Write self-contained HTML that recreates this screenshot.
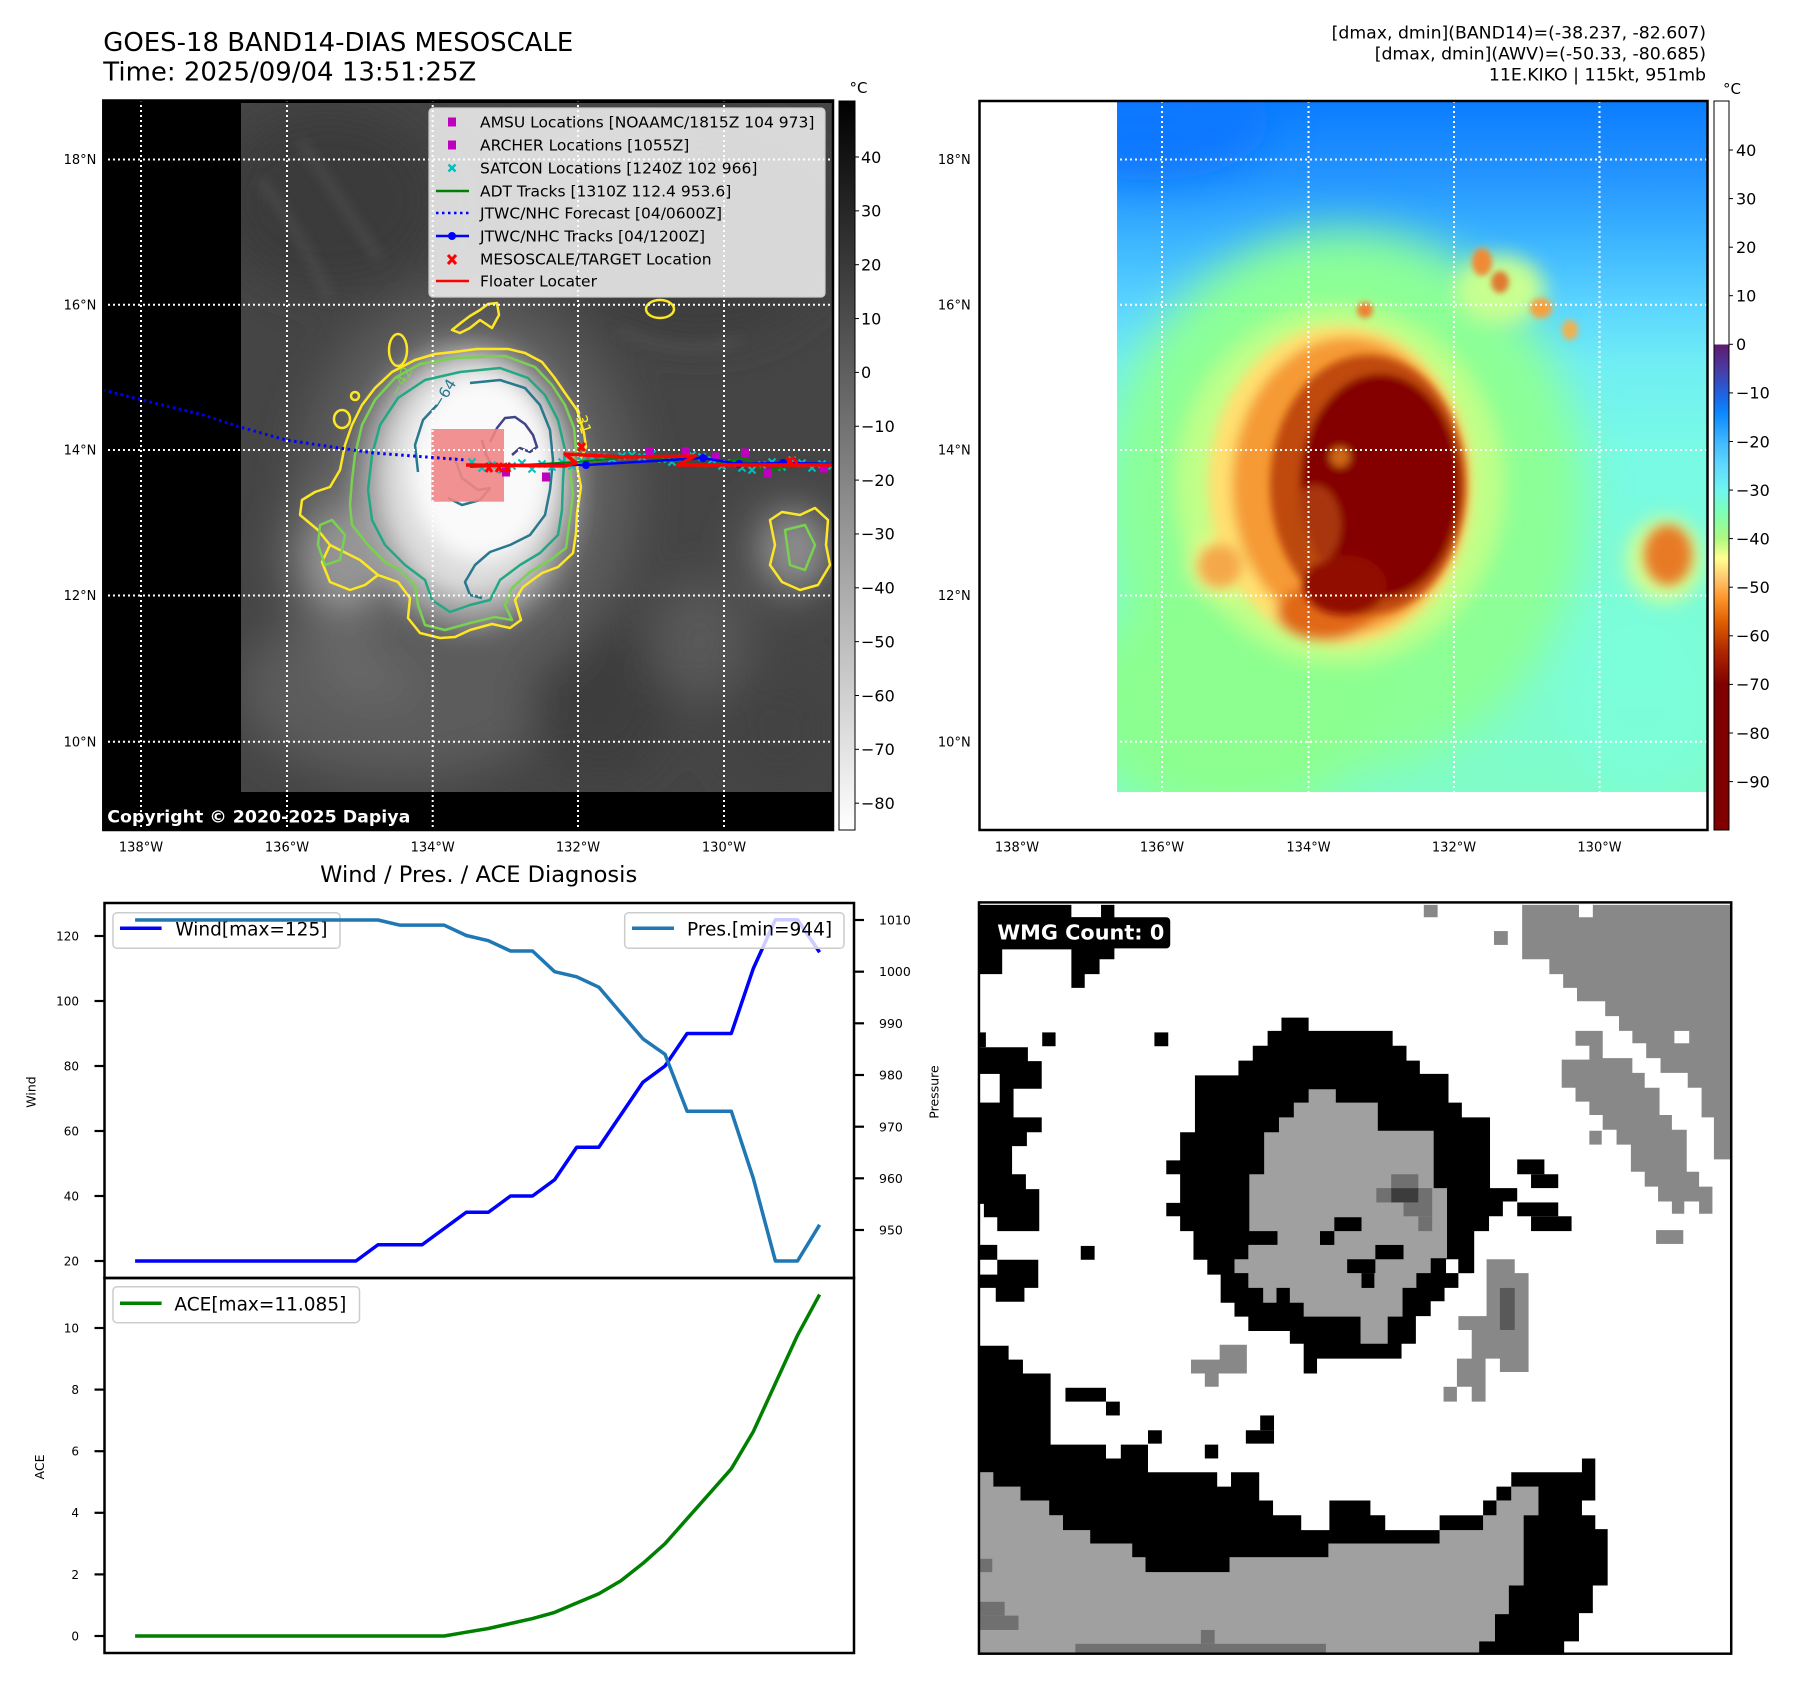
<!DOCTYPE html>
<html><head><meta charset="utf-8"><style>
html,body{margin:0;padding:0;background:#fff}
svg{display:block}
text{font-family:"DejaVu Sans","Liberation Sans",sans-serif}
</style></head><body>
<svg width="1797" height="1690" viewBox="0 0 1797 1690" xmlns="http://www.w3.org/2000/svg">
<defs>
<filter id="b2" x="-50%" y="-50%" width="200%" height="200%"><feGaussianBlur stdDeviation="2"/></filter>
<filter id="b3" x="-50%" y="-50%" width="200%" height="200%"><feGaussianBlur stdDeviation="3"/></filter>
<filter id="b4" x="-50%" y="-50%" width="200%" height="200%"><feGaussianBlur stdDeviation="4"/></filter>
<filter id="b6" x="-50%" y="-50%" width="200%" height="200%"><feGaussianBlur stdDeviation="6"/></filter>
<filter id="b10" x="-50%" y="-50%" width="200%" height="200%"><feGaussianBlur stdDeviation="10"/></filter>
<filter id="b14" x="-50%" y="-50%" width="200%" height="200%"><feGaussianBlur stdDeviation="14"/></filter>
<filter id="b22" x="-50%" y="-50%" width="200%" height="200%"><feGaussianBlur stdDeviation="22"/></filter>
<clipPath id="axL"><rect x="103.3" y="100.5" width="729.7" height="729.5"/></clipPath>
<clipPath id="imgL"><rect x="241" y="103" width="592" height="689"/></clipPath>
<clipPath id="axR"><rect x="979.5" y="101" width="728" height="729"/></clipPath>
<clipPath id="imgR"><rect x="1117" y="101" width="590.5" height="691"/></clipPath>
<linearGradient id="cbL" x1="0" y1="0" x2="0" y2="1"><stop offset="0" stop-color="#000"/><stop offset="1" stop-color="#fff"/></linearGradient>
<linearGradient id="cbR" x1="0" y1="0" x2="0" y2="1">
<stop offset="0" stop-color="#fff"/><stop offset="0.3337" stop-color="#fff"/>
<stop offset="0.3337" stop-color="#5e1a6e"/><stop offset="0.367" stop-color="#4a3aa0"/>
<stop offset="0.402" stop-color="#2062e0"/><stop offset="0.428" stop-color="#0a88ff"/>
<stop offset="0.467" stop-color="#40b8ff"/><stop offset="0.500" stop-color="#60d8ff"/>
<stop offset="0.534" stop-color="#70f5f0"/><stop offset="0.567" stop-color="#80ffb0"/>
<stop offset="0.600" stop-color="#b0f880"/><stop offset="0.627" stop-color="#ffff90"/>
<stop offset="0.654" stop-color="#ffc870"/><stop offset="0.680" stop-color="#ff9830"/>
<stop offset="0.714" stop-color="#e06000"/><stop offset="0.754" stop-color="#b02800"/>
<stop offset="0.800" stop-color="#800000"/><stop offset="1" stop-color="#800000"/>
</linearGradient>
<linearGradient id="gR" gradientUnits="userSpaceOnUse" x1="0" y1="101" x2="0" y2="792">
<stop offset="0" stop-color="#0a7dff"/><stop offset="0.1" stop-color="#2292ff"/>
<stop offset="0.2" stop-color="#3cb4ff"/><stop offset="0.3" stop-color="#5cd6ff"/>
<stop offset="0.38" stop-color="#70eef4"/><stop offset="0.5" stop-color="#78fae6"/>
<stop offset="0.75" stop-color="#7cfcd6"/><stop offset="1" stop-color="#80fcc8"/>
</linearGradient>
</defs>
<rect width="1797" height="1690" fill="#fff"/>

<!-- Titles -->
<text x="103.3" y="51.2" font-size="25.5" textLength="470" lengthAdjust="spacingAndGlyphs">GOES-18 BAND14-DIAS MESOSCALE</text>
<text x="103.3" y="80.5" font-size="25.5" textLength="373" lengthAdjust="spacingAndGlyphs">Time: 2025/09/04 13:51:25Z</text>
<text x="1706" y="38.5" font-size="17.3" text-anchor="end">[dmax, dmin](BAND14)=(-38.237, -82.607)</text>
<text x="1706" y="59.5" font-size="17.3" text-anchor="end">[dmax, dmin](AWV)=(-50.33, -80.685)</text>
<text x="1706" y="80.5" font-size="17.3" text-anchor="end">11E.KIKO | 115kt, 951mb</text>

<!-- ================= LEFT MAP ================= -->
<g clip-path="url(#axL)">
<rect x="103.3" y="100.5" width="729.7" height="729.5" fill="#000"/>
<g clip-path="url(#imgL)">
<rect x="241" y="103" width="592" height="689" fill="#454545"/>
<g filter="url(#b22)">
<ellipse cx="330" cy="200" rx="110" ry="90" fill="#3a3a3a"/>
<ellipse cx="700" cy="230" rx="140" ry="110" fill="#3d3d3d"/>
<ellipse cx="600" cy="170" rx="80" ry="50" fill="#4e4e4e"/>
<ellipse cx="400" cy="690" rx="160" ry="90" fill="#5c5c5c"/>
<ellipse cx="380" cy="660" rx="60" ry="40" fill="#6a6a6a"/>
<ellipse cx="600" cy="700" rx="70" ry="80" fill="#3c3c3c"/>
<ellipse cx="700" cy="640" rx="50" ry="60" fill="#585858"/>
<ellipse cx="780" cy="730" rx="60" ry="60" fill="#424242"/>
<ellipse cx="468" cy="490" rx="170" ry="200" fill="#5c5c5c"/>
<ellipse cx="790" cy="550" rx="45" ry="50" fill="#686868"/>
<ellipse cx="340" cy="555" rx="55" ry="70" fill="#747474"/>
</g>
<g filter="url(#b6)" stroke="#5a5a5a" stroke-width="6" fill="none" opacity="0.7">
<path d="M260,180 Q300,230 330,300"/>
<path d="M300,140 Q340,200 380,260"/>
<path d="M620,330 Q680,360 740,340"/>
</g>
<g filter="url(#b14)">
<ellipse cx="468" cy="485" rx="112" ry="142" fill="#a8a8a8"/>
<ellipse cx="795" cy="550" rx="30" ry="35" fill="#8a8a8a"/>
<ellipse cx="345" cy="560" rx="35" ry="45" fill="#949494"/>
</g>
<g filter="url(#b10)">
<ellipse cx="472" cy="478" rx="90" ry="118" fill="#dcdcdc"/>
<ellipse cx="480" cy="468" rx="70" ry="92" fill="#fafafa"/>
</g>
<circle cx="473" cy="460" r="5" fill="#cfcfcf" filter="url(#b2)"/>
</g>

<!-- contours -->
<g fill="none" stroke-width="2.5" stroke-linejoin="round">
<path stroke="#fde725" d="M454,352 L477,349 L508,349 L525,353 L542,362 L554,377 L565,393 L577,410 L584,433 L586,447 L577,467 L581,487 L577,513 L576,533 L573,553 L558,567 L542,573 L523,587 L515,600 L521,620 L510,628 L492,624 L470,630 L455,637 L440,638 L420,633 L408,618 L410,598 L398,582 L378,575 L365,585 L350,590 L330,582 L322,562 L330,545 L318,530 L300,515 L302,500 L315,492 L330,487 L340,470 L345,445 L352,425 L362,405 L375,388 L392,372 L415,360 L435,354 Z"/>
<path stroke="#fde725" d="M452,330 L462,322 L470,316 L480,310 L488,304 L497,303 L499,315 L492,328 L480,320 L470,328 L460,333 Z"/>
<ellipse stroke="#fde725" cx="398" cy="350" rx="9" ry="16"/>
<ellipse stroke="#fde725" cx="660" cy="309" rx="14" ry="9"/>
<ellipse stroke="#fde725" cx="342" cy="419" rx="8" ry="9"/>
<ellipse stroke="#fde725" cx="355" cy="396" rx="4" ry="4"/>
<path stroke="#fde725" d="M770,520 L782,512 L800,515 L815,508 L828,520 L826,545 L830,565 L818,585 L800,590 L782,582 L770,565 L775,545 Z"/>
<path stroke="#fde725" d="M330,545 L340,550 L360,560 L378,575"/>
<path stroke="#7ad151" d="M456,358 L505,356 L535,367 L552,385 L565,405 L574,428 L576,450 L570,470 L573,495 L569,525 L566,548 L550,560 L530,572 L512,588 L505,605 L512,620 L495,617 L470,623 L445,630 L425,625 L418,605 L415,585 L400,570 L385,562 L368,545 L352,525 L350,505 L352,480 L355,455 L362,425 L375,400 L395,378 L420,364 Z"/>
<path stroke="#7ad151" d="M320,525 L332,520 L345,535 L340,560 L325,565 L318,545 Z"/>
<path stroke="#7ad151" d="M785,530 L805,525 L815,545 L805,570 L790,565 Z"/>
<path stroke="#22a884" d="M460,372 L500,368 L528,378 L545,395 L558,420 L565,450 L563,480 L562,510 L558,535 L540,553 L520,565 L500,580 L490,600 L470,605 L450,612 L432,600 L425,580 L405,565 L385,545 L372,520 L368,490 L372,455 L380,425 L398,398 L425,380 Z"/>
<path stroke="#2a788e" d="M470,383 L500,380 L525,388 L540,405 L550,430 L553,460 L550,490 L545,515 L530,535 L510,545 L490,552 L475,565 L465,582 L470,595 L482,598"/>
<path stroke="#2a788e" d="M418,472 L415,445 L423,420 L437,405"/>
<path stroke="#2a788e" d="M454,457 L462,478 L478,490 L490,488 L480,500 L462,505 L448,498"/>
<path stroke="#414487" d="M490,442 L497,428 L505,418 L515,417 L525,424 L533,435 L537,447 L530,452 L520,448 L512,455"/>
<path stroke="#414487" d="M482,440 L486,455 L494,468"/>
</g>
<text x="0" y="0" font-size="15" fill="#2a788e" transform="translate(440,410) rotate(-58)">−64</text>
<text x="0" y="0" font-size="15" fill="#7ad151" transform="translate(398,398) rotate(-62)">−42</text>
<text x="0" y="0" font-size="15" fill="#fde725" transform="translate(572,405) rotate(72)">−31</text>

<!-- floater box -->
<rect x="431.4" y="429" width="72.6" height="72.7" fill="#f08585" opacity="0.9"/>

<!-- gridlines -->
<g stroke="#fff" stroke-width="2" stroke-dasharray="2 3">
<line x1="141" y1="100" x2="141" y2="830"/><line x1="287" y1="100" x2="287" y2="830"/>
<line x1="432.7" y1="100" x2="432.7" y2="830"/><line x1="578" y1="100" x2="578" y2="830"/>
<line x1="724" y1="100" x2="724" y2="830"/>
<line x1="108" y1="159.5" x2="833" y2="159.5"/><line x1="108" y1="304.7" x2="833" y2="304.7"/>
<line x1="108" y1="450" x2="833" y2="450"/><line x1="108" y1="595.5" x2="833" y2="595.5"/>
<line x1="108" y1="741.7" x2="833" y2="741.7"/>
</g>

<!-- forecast -->
<polyline points="103,390 150,402 200,414 240,427 286,440 332,447 374,453 466,460" fill="none" stroke="#0000ff" stroke-width="3" stroke-dasharray="2.5 3.5"/>
<!-- SATCON -->
<path stroke="#00bfbf" stroke-width="2" fill="none" d="M468.5,458.5l7,7m0,-7l-7,7 M478.5,464.5l7,7m0,-7l-7,7 M488.5,461.5l7,7m0,-7l-7,7 M498.5,466.5l7,7m0,-7l-7,7 M508.5,462.5l7,7m0,-7l-7,7 M518.5,459.5l7,7m0,-7l-7,7 M528.5,465.5l7,7m0,-7l-7,7 M538.5,460.5l7,7m0,-7l-7,7 M548.5,463.5l7,7m0,-7l-7,7 M558.5,458.5l7,7m0,-7l-7,7 M568.5,462.5l7,7m0,-7l-7,7 M578.5,457.5l7,7m0,-7l-7,7 M588.5,454.5l7,7m0,-7l-7,7 M598.5,453.5l7,7m0,-7l-7,7 M608.5,455.5l7,7m0,-7l-7,7 M618.5,452.5l7,7m0,-7l-7,7 M628.5,451.5l7,7m0,-7l-7,7 M638.5,453.5l7,7m0,-7l-7,7 M648.5,450.5l7,7m0,-7l-7,7 M658.5,455.5l7,7m0,-7l-7,7 M668.5,458.5l7,7m0,-7l-7,7 M678.5,454.5l7,7m0,-7l-7,7 M688.5,451.5l7,7m0,-7l-7,7 M698.5,453.5l7,7m0,-7l-7,7 M708.5,456.5l7,7m0,-7l-7,7 M718.5,462.5l7,7m0,-7l-7,7 M728.5,459.5l7,7m0,-7l-7,7 M738.5,464.5l7,7m0,-7l-7,7 M748.5,466.5l7,7m0,-7l-7,7 M758.5,461.5l7,7m0,-7l-7,7 M768.5,458.5l7,7m0,-7l-7,7 M778.5,463.5l7,7m0,-7l-7,7 M788.5,456.5l7,7m0,-7l-7,7 M798.5,459.5l7,7m0,-7l-7,7 M808.5,464.5l7,7m0,-7l-7,7 M818.5,460.5l7,7m0,-7l-7,7 M828.5,462.5l7,7m0,-7l-7,7"/>
<!-- ADT -->
<polyline points="470,467 500,466 540,464 575,462 610,459 640,456 680,462 705,467 720,463 745,458 765,472 790,466 810,463 840,464" fill="none" stroke="#008000" stroke-width="2"/>
<!-- magenta squares -->
<g fill="#bf00bf">
<rect x="502" y="467.5" width="8" height="9"/><rect x="542" y="472.5" width="8" height="9"/>
<rect x="646" y="447.5" width="8" height="9"/><rect x="682" y="447.5" width="8" height="9"/>
<rect x="712" y="452.5" width="8" height="9"/><rect x="741" y="448.5" width="8" height="9"/>
<rect x="764" y="468.5" width="8" height="9"/><rect x="820" y="463.5" width="8" height="9"/>
</g>
<!-- JTWC tracks -->
<polyline points="470,465 586,465 703,458 739,464 783,463 840,464" fill="none" stroke="#0000ff" stroke-width="2.5"/>
<g fill="#0000ff"><circle cx="586" cy="465" r="4"/><circle cx="703" cy="458" r="4"/><circle cx="739" cy="464" r="4"/><circle cx="783" cy="463" r="4"/></g>
<!-- floater locater -->
<polyline points="466,465 565,466 576,463 565,454 623,457 695,456 678,465 840,465" fill="none" stroke="#ff0000" stroke-width="3.5" stroke-linejoin="round"/>
<path stroke="#ff0000" stroke-width="3" fill="none" d="M486,463l6,9m0,-9l-6,9 M496,463l6,9m0,-9l-6,9 M505,463l5,9m0,-9l-5,9 M578,443l7,8m0,-8l-7,8 M787,457l6,8m0,-8l-6,8 M793,457l5,8"/>

<!-- legend -->
<rect x="429" y="108" width="396" height="189" rx="4" fill="#fff" fill-opacity="0.8" stroke="#cccccc" stroke-width="1.2"/>
<g fill="#bf00bf"><rect x="448" y="117.5" width="8" height="9"/><rect x="448" y="140.5" width="8" height="9"/></g>
<path d="M448.5,164.5l7,7m0,-7l-7,7" stroke="#00bfbf" stroke-width="2.5"/>
<line x1="436" y1="191" x2="469" y2="191" stroke="#008000" stroke-width="2.5"/>
<line x1="436" y1="213" x2="469" y2="213" stroke="#0000ff" stroke-width="2.5" stroke-dasharray="2.5 3.5"/>
<line x1="436" y1="236" x2="469" y2="236" stroke="#0000ff" stroke-width="2.5"/><circle cx="452" cy="236" r="4" fill="#0000ff"/>
<path d="M448,255l8,9m0,-9l-8,9" stroke="#ff0000" stroke-width="3"/>
<line x1="436" y1="281" x2="469" y2="281" stroke="#ff0000" stroke-width="2.5"/>
<g font-size="15.5" fill="#000">
<text x="480" y="127.7">AMSU Locations [NOAAMC/1815Z 104 973]</text>
<text x="480" y="150.7">ARCHER Locations [1055Z]</text>
<text x="480" y="173.7">SATCON Locations [1240Z 102 966]</text>
<text x="480" y="196.7">ADT Tracks [1310Z 112.4 953.6]</text>
<text x="480" y="218.7">JTWC/NHC Forecast [04/0600Z]</text>
<text x="480" y="241.7">JTWC/NHC Tracks [04/1200Z]</text>
<text x="480" y="264.7">MESOSCALE/TARGET Location</text>
<text x="480" y="286.7">Floater Locater</text>
</g>
<text x="107.3" y="822.3" font-size="17" font-weight="bold" fill="#fff" textLength="303" lengthAdjust="spacingAndGlyphs">Copyright © 2020-2025 Dapiya</text>
</g>
<rect x="103.3" y="100.5" width="729.7" height="729.5" fill="none" stroke="#000" stroke-width="2.5"/>

<!-- left map tick labels -->
<g font-size="13" text-anchor="end">
<text x="96.4" y="164.2">18°N</text><text x="96.4" y="309.4">16°N</text>
<text x="96.4" y="454.7">14°N</text><text x="96.4" y="600.2">12°N</text>
<text x="96.4" y="746.4">10°N</text>
</g>
<g font-size="13" text-anchor="middle">
<text x="141" y="851.4">138°W</text><text x="287" y="851.4">136°W</text>
<text x="432.7" y="851.4">134°W</text><text x="578" y="851.4">132°W</text>
<text x="724" y="851.4">130°W</text>
</g>

<!-- left colorbar -->
<rect x="839" y="101" width="16" height="729" fill="url(#cbL)" stroke="#000" stroke-width="1"/>
<text x="849.5" y="93" font-size="15">°C</text>
<g stroke="#000" stroke-width="1">
<line x1="855" y1="157" x2="859" y2="157"/><line x1="855" y1="210.85" x2="859" y2="210.85"/>
<line x1="855" y1="264.7" x2="859" y2="264.7"/><line x1="855" y1="318.55" x2="859" y2="318.55"/>
<line x1="855" y1="372.4" x2="859" y2="372.4"/><line x1="855" y1="426.25" x2="859" y2="426.25"/>
<line x1="855" y1="480.1" x2="859" y2="480.1"/><line x1="855" y1="533.95" x2="859" y2="533.95"/>
<line x1="855" y1="587.8" x2="859" y2="587.8"/><line x1="855" y1="641.65" x2="859" y2="641.65"/>
<line x1="855" y1="695.5" x2="859" y2="695.5"/><line x1="855" y1="749.35" x2="859" y2="749.35"/>
<line x1="855" y1="803.2" x2="859" y2="803.2"/>
</g>
<g font-size="16">
<text x="861" y="162.8">40</text><text x="861" y="216.6">30</text><text x="861" y="270.5">20</text>
<text x="861" y="324.3">10</text><text x="861" y="378.2">0</text><text x="861" y="432">−10</text>
<text x="861" y="485.9">−20</text><text x="861" y="539.7">−30</text><text x="861" y="593.6">−40</text>
<text x="861" y="647.4">−50</text><text x="861" y="701.3">−60</text><text x="861" y="755.1">−70</text>
<text x="861" y="809">−80</text>
</g>

<!-- ================= RIGHT MAP ================= -->
<g clip-path="url(#axR)">
<rect x="979.5" y="101" width="728" height="729" fill="#fff"/>
<g clip-path="url(#imgR)">
<rect x="1117" y="101" width="590.5" height="691" fill="url(#gR)"/>
<g filter="url(#b22)">
<ellipse cx="1150" cy="120" rx="120" ry="60" fill="#0a78ff"/>
<ellipse cx="1345" cy="500" rx="240" ry="270" fill="#8cff96"/>
<ellipse cx="1230" cy="700" rx="150" ry="120" fill="#8cff90"/>
<ellipse cx="1640" cy="700" rx="80" ry="100" fill="#7cffe0" opacity="0.6"/>
</g>
<g filter="url(#b10)">
<ellipse cx="1340" cy="485" rx="165" ry="180" fill="#c0ff88"/>
<ellipse cx="1500" cy="290" rx="45" ry="35" fill="#c8ff90"/>
<ellipse cx="1665" cy="560" rx="38" ry="42" fill="#d8ff90"/>
<ellipse cx="1220" cy="565" rx="32" ry="32" fill="#e8f888"/>
</g>
<g filter="url(#b6)">
<ellipse cx="1340" cy="485" rx="132" ry="160" fill="#ffe070"/>
<ellipse cx="1348" cy="485" rx="116" ry="148" fill="#f59a35"/>
<ellipse cx="1325" cy="612" rx="48" ry="28" fill="#e06818"/>
<ellipse cx="1220" cy="566" rx="22" ry="22" fill="#f5a848"/>
<ellipse cx="1668" cy="555" rx="24" ry="30" fill="#e87a25"/>
</g>
<g filter="url(#b3)">
<ellipse cx="1482" cy="262" rx="10" ry="14" fill="#f08a35"/>
<ellipse cx="1500" cy="282" rx="9" ry="11" fill="#e07a30"/>
<ellipse cx="1541" cy="308" rx="11" ry="10" fill="#f5a040"/>
<ellipse cx="1365" cy="310" rx="8" ry="8" fill="#f08030"/>
<ellipse cx="1570" cy="330" rx="8" ry="10" fill="#f0b050"/>
</g>
<g filter="url(#b4)">
<ellipse cx="1368" cy="485" rx="98" ry="130" fill="#c04a08"/>
<ellipse cx="1380" cy="486" rx="80" ry="112" fill="#840000"/>
<ellipse cx="1345" cy="585" rx="42" ry="30" fill="#900800"/>
<ellipse cx="1315" cy="525" rx="26" ry="40" fill="#b84a10" opacity="0.7"/>
<circle cx="1340" cy="457" r="10" fill="#d06818"/>
</g>
</g>
<g stroke="#fff" stroke-width="2" stroke-dasharray="2 3">
<line x1="1017" y1="101" x2="1017" y2="830"/><line x1="1162" y1="101" x2="1162" y2="830"/>
<line x1="1308.5" y1="101" x2="1308.5" y2="830"/><line x1="1454" y1="101" x2="1454" y2="830"/>
<line x1="1599.5" y1="101" x2="1599.5" y2="830"/>
<line x1="980" y1="159.5" x2="1707" y2="159.5"/><line x1="980" y1="304.7" x2="1707" y2="304.7"/>
<line x1="980" y1="450" x2="1707" y2="450"/><line x1="980" y1="595.5" x2="1707" y2="595.5"/>
<line x1="980" y1="741.7" x2="1707" y2="741.7"/>
</g>
</g>
<rect x="979.5" y="101" width="728" height="729" fill="none" stroke="#000" stroke-width="2.5"/>
<g font-size="13" text-anchor="end">
<text x="970.7" y="164.2">18°N</text><text x="970.7" y="309.4">16°N</text>
<text x="970.7" y="454.7">14°N</text><text x="970.7" y="600.2">12°N</text>
<text x="970.7" y="746.4">10°N</text>
</g>
<g font-size="13" text-anchor="middle">
<text x="1017" y="851.4">138°W</text><text x="1162" y="851.4">136°W</text>
<text x="1308.5" y="851.4">134°W</text><text x="1454" y="851.4">132°W</text>
<text x="1599.5" y="851.4">130°W</text>
</g>
<!-- right colorbar -->
<rect x="1714" y="101" width="15" height="729" fill="url(#cbR)" stroke="#000" stroke-width="1"/>
<text x="1723" y="94" font-size="15">°C</text>
<g stroke="#000" stroke-width="1">
<line x1="1729" y1="150" x2="1733" y2="150"/><line x1="1729" y1="198.6" x2="1733" y2="198.6"/>
<line x1="1729" y1="247.2" x2="1733" y2="247.2"/><line x1="1729" y1="295.7" x2="1733" y2="295.7"/>
<line x1="1729" y1="344.3" x2="1733" y2="344.3"/><line x1="1729" y1="392.9" x2="1733" y2="392.9"/>
<line x1="1729" y1="441.5" x2="1733" y2="441.5"/><line x1="1729" y1="490.1" x2="1733" y2="490.1"/>
<line x1="1729" y1="538.6" x2="1733" y2="538.6"/><line x1="1729" y1="587.2" x2="1733" y2="587.2"/>
<line x1="1729" y1="635.8" x2="1733" y2="635.8"/><line x1="1729" y1="684.4" x2="1733" y2="684.4"/>
<line x1="1729" y1="733" x2="1733" y2="733"/><line x1="1729" y1="781.6" x2="1733" y2="781.6"/>
</g>
<g font-size="16">
<text x="1736" y="155.8">40</text><text x="1736" y="204.4">30</text><text x="1736" y="253">20</text>
<text x="1736" y="301.5">10</text><text x="1736" y="350.1">0</text><text x="1736" y="398.7">−10</text>
<text x="1736" y="447.3">−20</text><text x="1736" y="495.9">−30</text><text x="1736" y="544.4">−40</text>
<text x="1736" y="593">−50</text><text x="1736" y="641.6">−60</text><text x="1736" y="690.2">−70</text>
<text x="1736" y="738.8">−80</text><text x="1736" y="787.4">−90</text>
</g>

<!-- ================= CHARTS ================= -->
<text x="478.7" y="882.2" font-size="22.5" text-anchor="middle" textLength="317" lengthAdjust="spacingAndGlyphs">Wind / Pres. / ACE Diagnosis</text>
<!-- upper chart -->
<polyline points="135.1,1261 355.9,1261 378,1244.75 422.1,1244.75 444.2,1228.5 466.3,1212.25 488.4,1212.25 510.5,1196 532.5,1196 554.6,1179.75 576.7,1147.25 598.8,1147.25 620.9,1114.75 642.9,1082.25 665,1066 687.1,1033.5 731.3,1033.5 753.3,968.5 775.4,919.75 797.5,919.75 819.6,952.25" fill="none" stroke="#0000ff" stroke-width="3.5" stroke-linejoin="round"/>
<rect x="113" y="912.7" width="227" height="35.6" rx="4" fill="#fff" fill-opacity="0.8" stroke="#cccccc" stroke-width="1.5"/>
<line x1="120" y1="928.3" x2="161.6" y2="928.3" stroke="#0000ff" stroke-width="3.5"/>
<text x="175.4" y="935.5" font-size="18.5">Wind[max=125]</text>
<polyline points="135.1,920 378,920 400.1,925.17 444.2,925.17 466.3,935.5 488.4,940.67 510.5,951 532.5,951 554.6,971.67 576.7,976.83 598.8,987.17 620.9,1013 642.9,1038.8 665,1054.3 687.1,1111.2 731.3,1111.2 753.3,1178.35 775.4,1261 797.5,1261 819.6,1224.85" fill="none" stroke="#1f77b4" stroke-width="3.5" stroke-linejoin="round"/>
<rect x="624.7" y="912.7" width="219.3" height="35.6" rx="4" fill="#fff" fill-opacity="0.8" stroke="#cccccc" stroke-width="1.5"/>
<line x1="632" y1="928.3" x2="674" y2="928.3" stroke="#1f77b4" stroke-width="3.5"/>
<text x="687" y="935.5" font-size="18.5">Pres.[min=944]</text>
<rect x="104.5" y="903" width="749.5" height="375" fill="none" stroke="#000" stroke-width="2.5"/>
<g stroke="#000" stroke-width="2.2">
<line x1="94.5" y1="936" x2="104.5" y2="936"/><line x1="94.5" y1="1001" x2="104.5" y2="1001"/>
<line x1="94.5" y1="1066" x2="104.5" y2="1066"/><line x1="94.5" y1="1131" x2="104.5" y2="1131"/>
<line x1="94.5" y1="1196" x2="104.5" y2="1196"/><line x1="94.5" y1="1261" x2="104.5" y2="1261"/>
<line x1="854" y1="920" x2="864" y2="920"/><line x1="854" y1="971.67" x2="864" y2="971.67"/>
<line x1="854" y1="1023.3" x2="864" y2="1023.3"/><line x1="854" y1="1075" x2="864" y2="1075"/>
<line x1="854" y1="1126.7" x2="864" y2="1126.7"/><line x1="854" y1="1178.3" x2="864" y2="1178.3"/>
<line x1="854" y1="1230" x2="864" y2="1230"/>
</g>
<g font-size="12" text-anchor="end">
<text x="79" y="940.4">120</text><text x="79" y="1005.4">100</text><text x="79" y="1070.4">80</text>
<text x="79" y="1135.4">60</text><text x="79" y="1200.4">40</text><text x="79" y="1265.4">20</text>
</g>
<g font-size="12.5">
<text x="879" y="924.6">1010</text><text x="879" y="976.2">1000</text><text x="879" y="1027.9">990</text>
<text x="879" y="1079.6">980</text><text x="879" y="1131.3">970</text><text x="879" y="1182.9">960</text>
<text x="879" y="1234.6">950</text>
</g>
<text transform="translate(35.5,1092) rotate(-90)" font-size="12.5" text-anchor="middle">Wind</text>
<text transform="translate(938.5,1092) rotate(-90)" font-size="12.5" text-anchor="middle">Pressure</text>

<!-- lower chart -->
<polyline points="135.1,1636 444.2,1636 466.3,1632.2 488.4,1628.5 510.5,1623.5 532.5,1618.6 554.6,1612.4 576.7,1603 598.8,1593.7 620.9,1580.7 642.9,1563.4 665,1543.7 687.1,1518.7 709.2,1493.8 731.3,1468.8 753.3,1431.6 775.4,1383.4 797.5,1335.3 819.6,1294.6" fill="none" stroke="#008000" stroke-width="3.5" stroke-linejoin="round"/>
<rect x="113" y="1286.7" width="246.5" height="36" rx="4" fill="#fff" fill-opacity="0.8" stroke="#cccccc" stroke-width="1.5"/>
<line x1="120" y1="1303.3" x2="161.6" y2="1303.3" stroke="#008000" stroke-width="3.5"/>
<text x="174.4" y="1310.3" font-size="18.5">ACE[max=11.085]</text>
<rect x="104.5" y="1278" width="749.5" height="375" fill="none" stroke="#000" stroke-width="2.5"/>
<g stroke="#000" stroke-width="2.2">
<line x1="94.5" y1="1636" x2="104.5" y2="1636"/><line x1="94.5" y1="1574.4" x2="104.5" y2="1574.4"/>
<line x1="94.5" y1="1512.8" x2="104.5" y2="1512.8"/><line x1="94.5" y1="1451.2" x2="104.5" y2="1451.2"/>
<line x1="94.5" y1="1389.6" x2="104.5" y2="1389.6"/><line x1="94.5" y1="1328" x2="104.5" y2="1328"/>
</g>
<g font-size="12" text-anchor="end">
<text x="79" y="1640.4">0</text><text x="79" y="1578.8">2</text><text x="79" y="1517.2">4</text>
<text x="79" y="1455.6">6</text><text x="79" y="1394">8</text><text x="79" y="1332.4">10</text>
</g>
<text transform="translate(44,1467) rotate(-90)" font-size="12.5" text-anchor="middle">ACE</text>

<!-- ================= WMG ================= -->
<svg x="975" y="895" width="775" height="775" viewBox="0 0 1568 1568">
<rect x="8" y="15" width="1522" height="1520" fill="#fff"/>
<g fill="#888888">
<polygon points="1107,20 1222,20 1222,45 1250,45 1250,20 1528,20 1528,535 1495,535 1495,450 1470,450 1470,390 1442,390 1442,360 1387,360 1387,330 1358,330 1358,300 1330,300 1330,275 1303,275 1303,245 1275,245 1275,215 1218,215 1218,188 1190,188 1190,160 1162,160 1162,130 1107,130"/>
<polygon points="1215,275 1270,275 1270,330 1330,330 1330,360 1355,360 1355,390 1385,390 1385,445 1410,445 1410,475 1440,475 1440,560 1465,560 1465,590 1492,590 1492,645 1465,645 1465,620 1435,620 1435,645 1410,645 1410,620 1382,620 1382,590 1355,590 1355,560 1327,560 1327,505 1298,505 1298,475 1270,475 1270,445 1243,445 1243,418 1215,418 1215,390 1187,390 1187,333 1243,333 1243,305 1215,305"/>
<rect x="1243" y="477" width="25" height="28"/><rect x="1378" y="678" width="55" height="28"/>
<rect x="908" y="20" width="28" height="25"/><rect x="1050" y="73" width="28" height="28"/>
<polygon points="1035,737 1092,737 1092,765 1120,765 1120,965 1062,965 1062,938 1033,938 1033,1025 1005,1025 1005,995 975,995 975,938 1005,938 1005,880 978,880 978,852 1035,852"/>
<rect x="948" y="995" width="27" height="30"/>
<polygon points="495,910 550,910 550,968 493,968 493,995 465,995 465,968 437,968 437,940 495,940"/>
</g>
<rect x="1415" y="275" width="30" height="25" fill="#fff"/>
<rect x="1062" y="795" width="30" height="85" fill="#595959"/>
<!-- ring -->
<polygon fill="#000" points="620,248 675,248 675,275 845,275 845,305 873,305 873,335 900,335 900,362 958,362 958,420 985,420 985,450 1042,450 1042,593 1097,593 1097,620 1068,620 1068,650 1040,650 1040,680 1010,680 1010,765 978,765 978,795 950,795 950,822 922,822 922,852 892,852 892,908 863,908 863,938 692,938 692,968 665,968 665,908 637,908 637,882 553,882 553,853 525,853 525,825 497,825 497,768 470,768 470,738 442,738 442,680 415,680 415,650 387,650 387,623 415,623 415,565 387,565 387,537 415,537 415,480 445,480 445,365 533,365 533,335 562,335 562,305 592,305 592,275 620,275"/>
<rect x="953" y="737" width="25" height="28" fill="#fff"/>
<polygon fill="#a0a0a0" points="675,393 730,393 730,420 815,420 815,477 928,477 928,593 955,593 955,735 922,735 922,765 893,765 893,795 865,795 865,853 835,853 835,908 780,908 780,853 665,853 665,825 637,825 637,795 610,795 610,825 583,825 583,795 553,795 553,765 525,765 525,737 553,737 553,708 612,708 612,680 555,680 555,565 585,565 585,480 615,480 615,450 645,450 645,420 675,420"/>
<g fill="#000">
<rect x="727" y="652" width="55" height="28"/><rect x="698" y="680" width="29" height="28"/>
<rect x="810" y="708" width="57" height="29"/><rect x="753" y="737" width="57" height="28"/>
<rect x="782" y="765" width="26" height="30"/>
<rect x="1097" y="535" width="55" height="30"/><rect x="1125" y="565" width="55" height="28"/>
<rect x="1097" y="622" width="83" height="28"/><rect x="1125" y="650" width="82" height="30"/>
<rect x="978" y="737" width="27" height="28"/>
</g>
<g fill="#707070">
<rect x="842" y="565" width="55" height="28"/><rect x="812" y="593" width="30" height="29"/>
<rect x="897" y="593" width="28" height="29"/><rect x="867" y="622" width="58" height="28"/>
<rect x="897" y="650" width="28" height="30"/>
</g>
<rect x="842" y="593" width="55" height="29" fill="#3c3c3c"/>
<!-- left side blacks -->
<g fill="#000">
<polygon points="10,20 195,20 195,45 255,45 255,20 282,20 282,130 252,130 252,160 222,160 222,188 195,188 195,110 55,110 55,160 10,160"/>
<rect x="136" y="278" width="27" height="28"/><rect x="363" y="278" width="28" height="28"/>
<rect x="10" y="278" width="12" height="30"/>
<polygon points="10,308 107,308 107,336 135,336 135,392 78,392 78,450 135,450 135,480 105,480 105,508 75,508 75,565 103,565 103,595 130,595 130,680 45,680 45,652 18,652 18,625 10,625"/>
<polygon points="10,708 45,708 45,738 128,738 128,795 100,795 100,823 42,823 42,795 10,795"/>
<rect x="214" y="710" width="28" height="28"/>
</g>
<rect x="10" y="362" width="40" height="58" fill="#fff"/>
<rect x="10" y="738" width="35" height="30" fill="#fff"/>
<!-- bottom band -->
<polygon fill="#a0a0a0" points="10,1168 37,1168 37,1197 92,1197 92,1225 150,1225 150,1255 178,1255 178,1285 233,1285 233,1312 318,1312 318,1340 345,1340 345,1370 515,1370 515,1340 715,1340 715,1312 940,1312 940,1285 1028,1285 1028,1255 1055,1255 1055,1225 1085,1225 1085,1197 1140,1197 1140,1255 1110,1255 1110,1397 1080,1397 1080,1455 1052,1455 1052,1510 1020,1510 1020,1535 10,1535"/>
<g fill="#707070">
<rect x="10" y="1343" width="25" height="27"/><rect x="10" y="1430" width="50" height="28"/>
<rect x="10" y="1458" width="78" height="29"/><rect x="457" y="1487" width="28" height="28"/>
<rect x="203" y="1515" width="507" height="20"/>
</g>
<g fill="#000">
<polygon points="10,912 68,912 68,940 97,940 97,968 153,968 153,1112 265,1112 265,1140 295,1140 295,1112 350,1112 350,1168 490,1168 490,1197 518,1197 518,1168 575,1168 575,1225 603,1225 603,1255 660,1255 660,1285 717,1285 717,1225 800,1225 800,1255 830,1255 830,1285 940,1285 940,1312 715,1312 715,1340 515,1340 515,1370 345,1370 345,1340 318,1340 318,1312 233,1312 233,1285 178,1285 178,1255 150,1255 150,1225 92,1225 92,1197 37,1197 37,1168 10,1168"/>
<rect x="183" y="997" width="82" height="28"/><rect x="265" y="1025" width="28" height="28"/>
<rect x="350" y="1083" width="28" height="27"/><rect x="465" y="1112" width="27" height="28"/>
<rect x="548" y="1083" width="57" height="27"/><rect x="577" y="1053" width="28" height="30"/>
<rect x="940" y="1255" width="88" height="30"/>
<polygon points="1085,1168 1228,1168 1228,1140 1255,1140 1255,1225 1228,1225 1228,1255 1255,1255 1255,1283 1280,1283 1280,1397 1250,1397 1250,1453 1222,1453 1222,1510 1192,1510 1192,1535 1020,1535 1020,1510 1052,1510 1052,1455 1080,1455 1080,1397 1110,1397 1110,1255 1140,1255 1140,1197 1085,1197"/>
<rect x="1055" y="1197" width="30" height="28"/><rect x="1028" y="1225" width="27" height="30"/>
</g>
<rect x="20" y="45" width="375" height="63" rx="8" fill="#000"/>
<text x="45" y="90" font-size="42" font-weight="bold" fill="#fff" textLength="338" lengthAdjust="spacingAndGlyphs">WMG Count: 0</text>
<rect x="8" y="15" width="1522" height="1520" fill="none" stroke="#000" stroke-width="5"/>
</svg>
</svg>
</body></html>
